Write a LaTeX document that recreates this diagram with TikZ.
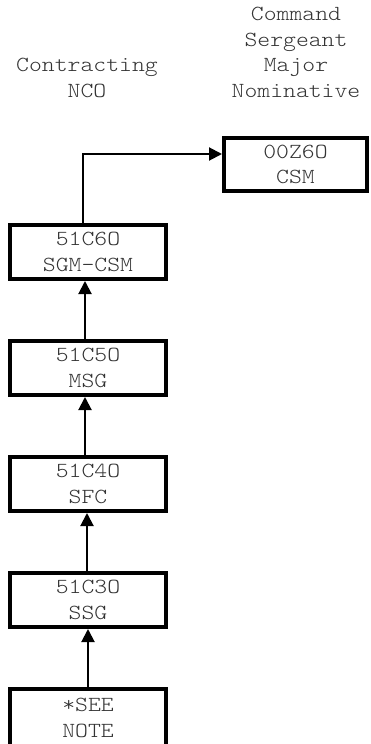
\documentclass[tikz,border=0pt]{standalone}
\usepackage{fontspec}
\setmonofont[FakeStretch=1.14]{Latin Modern Mono Light}
\usetikzlibrary{arrows.meta}

\begin{document}
\begin{tikzpicture}[x=1pt,y=-1pt,>={Triangle[length=13pt,width=13pt]}]
    \tikzstyle{every node}=[font=\ttfamily\fontsize{21.5}{25.7}\selectfont,text=black!80]
    \tikzstyle{grade}=[draw=black,line width=4pt,minimum width=156pt,minimum height=54pt,align=center,inner sep=0pt]
    \tikzstyle{up}=[line width=2pt,->]
    \useasboundingbox (0,0) rectangle (370,744);
    % column heads
    \node[align=center,anchor=south,inner sep=0pt] (contr) at (87,98) {Contracting\\NCO};
    \node[align=center,anchor=south,inner sep=0pt] (nomin) at (296,98) {Command\\Sergeant\\Major\\Nominative};
    % grades
    \node[grade,minimum height=58pt] (note) at (88,718) {*SEE\\NOTE};
    \node[grade] (ssg) at (88,600) {51C3O\\SSG};
    \node[grade] (sfc) at (88,484) {51C4O\\SFC};
    \node[grade] (msg) at (88,368) {51C5O\\MSG};
    \node[grade] (sgm) at (88,252) {51C6O\\SGM-CSM};
    \node[grade,minimum width=143pt,minimum height=53pt] (csm) at (295.5,164.5) {00Z6O\\CSM};
    % promotions
    \draw[up] (note.north) -- (ssg.south);
    \draw[up] ([xshift=-1pt]ssg.north) -- ([xshift=-1pt]sfc.south);
    \draw[up] ([xshift=-3pt]sfc.north) -- ([xshift=-3pt]msg.south);
    \draw[up] ([xshift=-3pt]msg.north) -- ([xshift=-3pt]sgm.south);
    \draw[up] ([xshift=-5pt]sgm.north) |- ([yshift=10.5pt]csm.west);
\end{tikzpicture}
\end{document}
